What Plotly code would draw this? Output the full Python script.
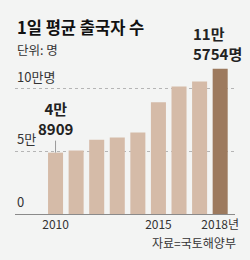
import plotly.graph_objects as go

years = [2010, 2011, 2012, 2013, 2014, 2015, 2016, 2017, 2018]
values = [48909, 50600, 59100, 61000, 64900, 89100, 101600, 105600, 115754]
tick_years = [2010, 2015, 2018]
tick_text = ["2010", "2015", "2018년"]
y_ticks = [0, 50000, 100000]
y_tick_text = ["0", "5만", "10만명"]

FONT = "Noto Sans CJK KR"
light = "#d5bba8"
dark = "#9d7a5e"
colors = [light] * (len(years) - 1) + [dark]

fig = go.Figure()
fig.add_trace(go.Bar(x=years, y=values, marker=dict(color=colors, line=dict(width=0)),
                     width=0.73, hoverinfo="skip"))

fig.update_layout(
    width=250, height=260,
    margin=dict(l=15, r=15, t=50, b=46),
    paper_bgcolor="#f3f4f3", plot_bgcolor="#f3f4f3",
    showlegend=False,
    font=dict(family=FONT, color="#222", size=13),
    xaxis=dict(range=[2008.03, 2018.72], tickvals=tick_years, ticktext=tick_text,
               showgrid=False, showline=True, linecolor="#8a8a8a", linewidth=1,
               ticks="", tickfont=dict(size=12, color="#333"), fixedrange=True),
    yaxis=dict(range=[0, 130700], tickvals=y_ticks, showticklabels=False,
               showgrid=True, gridcolor="#b5b5b5", griddash="dot", gridwidth=1,
               zeroline=False, fixedrange=True),
)

for v, t in zip(y_ticks, y_tick_text):
    fig.add_annotation(x=0, xref="paper", xanchor="left", y=v, yref="y", yanchor="bottom",
                       text=t, showarrow=False, font=dict(size=13, color="#333"),
                       yshift=1)

# first value label with leader line
fig.add_annotation(x=years[0], y=values[0], xref="x", yref="y",
                   text="<b>4만<br>8909</b>", showarrow=True, arrowhead=0,
                   arrowwidth=1, arrowcolor="#999", ax=0, ay=-34,
                   font=dict(size=15, color="#222"), align="center")
# last value label
fig.add_annotation(x=years[-1], y=values[-1], xref="x", yref="y",
                   text="<b>11만<br>5754명</b>", showarrow=False, yanchor="bottom",
                   yshift=3, xshift=-3, align="left",
                   font=dict(size=15, color="#222"))

fig.add_annotation(x=0, xref="paper", y=1, yref="paper", xanchor="left", yanchor="middle",
                   text="<b>1일 평균 출국자 수</b>", showarrow=False,
                   font=dict(size=16.5, color="#111"), yshift=23)
fig.add_annotation(x=0, xref="paper", y=1, yref="paper", xanchor="left", yanchor="middle",
                   text="단위: 명", showarrow=False,
                   font=dict(size=12.5, color="#333"), yshift=1)
fig.add_annotation(x=1, xref="paper", y=0, yref="paper", xanchor="right", yanchor="middle",
                   text="자료=국토해양부", showarrow=False,
                   font=dict(size=12, color="#333"), xshift=3, yshift=-28.5)

fig.write_html("out.html")
